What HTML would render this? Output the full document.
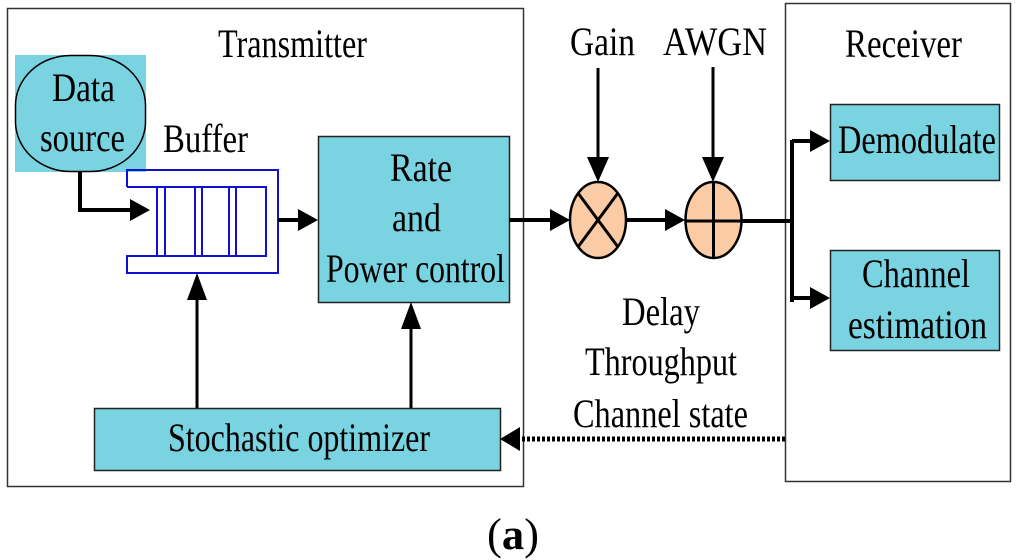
<!DOCTYPE html>
<html><head><meta charset="utf-8"><style>html,body{margin:0;padding:0;background:#fff;width:1024px;height:560px;overflow:hidden}</style></head>
<body>
<svg width="1024" height="560" viewBox="0 0 1024 560" xmlns="http://www.w3.org/2000/svg" font-family="'Liberation Serif', serif" font-size="40">
<!-- outer boxes -->
<rect x="7.5" y="8.5" width="516" height="478" fill="none" stroke="#333" stroke-width="1.5"/>
<rect x="785.5" y="3.5" width="225" height="478" fill="none" stroke="#333" stroke-width="1.5"/>
<!-- data source -->
<rect x="15" y="55" width="131" height="117" fill="#7ad3e0"/>
<rect x="15.5" y="55.5" width="130" height="116" rx="55" ry="50" fill="#7ad3e0" stroke="#000" stroke-width="1.5"/>
<!-- buffer -->
<g fill="none" stroke="#1010d0" stroke-width="2">
<path d="M127 187 V170 H278 V273 H127 V256 H266 V187 H127"/>
<path d="M157 187V256M165 187V256M195 187V256M202 187V256M229 187V256M236 187V256"/>
</g>
<!-- boxes -->
<rect x="318.5" y="136.5" width="191" height="166" fill="#7ad3e0" stroke="#222" stroke-width="1.5"/>
<rect x="830.5" y="104.5" width="169" height="76" fill="#7ad3e0" stroke="#222" stroke-width="1.5"/>
<rect x="830.5" y="250.5" width="169" height="100" fill="#7ad3e0" stroke="#222" stroke-width="1.5"/>
<rect x="94.5" y="408.5" width="406" height="62" fill="#7ad3e0" stroke="#222" stroke-width="1.5"/>
<!-- lines -->
<g stroke="#000" stroke-width="4" fill="none">
<path d="M80 172 V210 H138"/>
<path d="M278 220 H306"/>
<path d="M509 220 H557"/>
<path d="M626 220 H673"/>
<path d="M742 221 H792 M792 140 V302 M792 141 H818 M792 298 H818"/>
</g>
<g stroke="#000" stroke-width="3" fill="none">
<path d="M598 68 V170"/>
<path d="M713 67 V170"/>
<path d="M197 408 V290"/>
<path d="M411 408 V318"/>
</g>
<path d="M785 439 H516" stroke="#000" stroke-width="5" stroke-dasharray="3 2" fill="none"/>
<!-- arrowheads -->
<g fill="#000">
<polygon points="150,210 130,199 130,221"/>
<polygon points="318,220 298,209 298,231"/>
<polygon points="570,220 550,209 550,231"/>
<polygon points="685,220 665,209 665,231"/>
<polygon points="830,141 810,130 810,152"/>
<polygon points="830,298 810,287 810,309"/>
<polygon points="598,182 587,157 609,157"/>
<polygon points="713,182 702,157 724,157"/>
<polygon points="197,273 187,300 207,300"/>
<polygon points="411,302 401,329 421,329"/>
<polygon points="500,439 520,427 520,451"/>
</g>
<!-- mixers -->
<ellipse cx="598" cy="220" rx="28" ry="38" fill="#fbcba5" stroke="#000" stroke-width="2.5"/>
<path d="M578 193 L618 247 M618 193 L578 247" stroke="#000" stroke-width="3"/>
<ellipse cx="713.5" cy="220" rx="28" ry="38" fill="#fbcba5" stroke="#000" stroke-width="2.5"/>
<path d="M713.5 182 V258 M685 221 H742" stroke="#000" stroke-width="3"/>
<!-- text -->
<g fill="#000">
<text x="218" y="57" textLength="149" lengthAdjust="spacingAndGlyphs">Transmitter</text>
<text x="52" y="101" textLength="63" lengthAdjust="spacingAndGlyphs">Data</text>
<text x="40" y="151" textLength="85" lengthAdjust="spacingAndGlyphs">source</text>
<text x="163" y="152" textLength="85" lengthAdjust="spacingAndGlyphs">Buffer</text>
<text x="390" y="181" textLength="62" lengthAdjust="spacingAndGlyphs">Rate</text>
<text x="392" y="231" textLength="49" lengthAdjust="spacingAndGlyphs">and</text>
<text x="326" y="282" textLength="179" lengthAdjust="spacingAndGlyphs">Power control</text>
<text x="570" y="55" textLength="65" lengthAdjust="spacingAndGlyphs">Gain</text>
<text x="663" y="55" textLength="104" lengthAdjust="spacingAndGlyphs">AWGN</text>
<text x="845" y="57" textLength="117" lengthAdjust="spacingAndGlyphs">Receiver</text>
<text x="838" y="153" textLength="158" lengthAdjust="spacingAndGlyphs">Demodulate</text>
<text x="862" y="287" textLength="108" lengthAdjust="spacingAndGlyphs">Channel</text>
<text x="848" y="338" textLength="139" lengthAdjust="spacingAndGlyphs">estimation</text>
<text x="622" y="325" textLength="78" lengthAdjust="spacingAndGlyphs">Delay</text>
<text x="585" y="375" textLength="152" lengthAdjust="spacingAndGlyphs">Throughput</text>
<text x="573" y="427" textLength="175" lengthAdjust="spacingAndGlyphs">Channel state</text>
<text x="168" y="451" textLength="262" lengthAdjust="spacingAndGlyphs">Stochastic optimizer</text>
<text x="487" y="549" font-size="44" textLength="52" lengthAdjust="spacingAndGlyphs">(<tspan font-weight="bold">a</tspan>)</text>
</g>
</svg>
</body></html>
